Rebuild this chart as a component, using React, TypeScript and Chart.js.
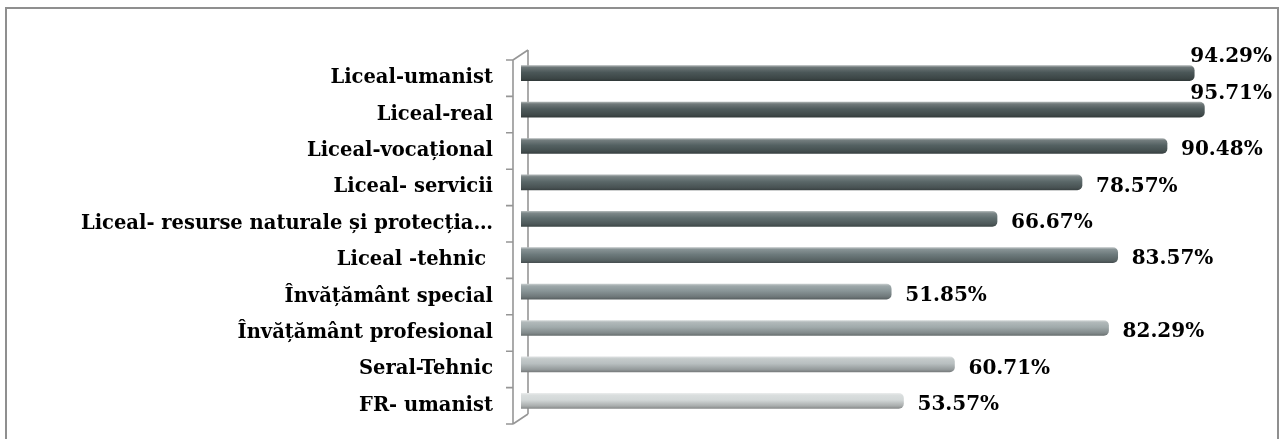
import React, { useEffect, useRef } from "react";
import { Chart, registerables } from "chart.js";

Chart.register(...registerables);

const categories = [
  "Liceal-umanist",
  "Liceal-real",
  "Liceal-vocațional",
  "Liceal- servicii",
  "Liceal- resurse naturale și protecția…",
  "Liceal -tehnic ",
  "Învățământ special",
  "Învățământ profesional",
  "Seral-Tehnic",
  "FR- umanist",
];

const values = [94.29, 95.71, 90.48, 78.57, 66.67, 83.57, 51.85, 82.29, 60.71, 53.57];

const barColors = [
  "#4b5758",
  "#505c5d",
  "#546162",
  "#5a6768",
  "#606e6f",
  "#6d7a7c",
  "#899597",
  "#a0aaab",
  "#b8bfc0",
  "#d2d7d7",
];

const BAR_H = 15;
const LABEL_FONT = "bold 20px 'DejaVu Serif'";

function shade(hex: string, amt: number): string {
  const n = parseInt(hex.slice(1), 16);
  let r = (n >> 16) & 255, g = (n >> 8) & 255, b = n & 255;
  const f = (c: number) => Math.max(0, Math.min(255, Math.round(amt >= 0 ? c + (255 - c) * amt : c * (1 + amt))));
  r = f(r); g = f(g); b = f(b);
  return `rgb(${r},${g},${b})`;
}

const wallPlugin = {
  id: "wall",
  beforeDatasetsDraw(chart: any) {
    const { ctx, chartArea } = chart;
    const d = 5;
    const fx = chartArea.left - 8;
    const bx = chartArea.left + 7;
    const top = chartArea.top;
    const bottom = chartArea.bottom;
    const n = categories.length;
    const step = (bottom - top) / n;
    ctx.save();
    ctx.strokeStyle = "#969696";
    ctx.lineWidth = 1.6;
    ctx.beginPath();
    ctx.moveTo(fx, top + d);
    ctx.lineTo(fx, bottom + d);
    ctx.moveTo(bx, top - d);
    ctx.lineTo(bx, bottom - d);
    ctx.moveTo(fx, top + d);
    ctx.lineTo(bx, top - d);
    ctx.moveTo(fx, bottom + d);
    ctx.lineTo(bx, bottom - d);
    for (let i = 0; i <= n; i++) {
      const y = top + d + i * step;
      ctx.moveTo(fx - 7, y);
      ctx.lineTo(fx, y);
    }
    ctx.stroke();
    ctx.restore();
  },
};

const valueLabelPlugin = {
  id: "valueLabels",
  afterDatasetsDraw(chart: any) {
    const { ctx } = chart;
    const meta = chart.getDatasetMeta(0);
    const limit = chart.width - 10;
    ctx.save();
    ctx.font = LABEL_FONT;
    ctx.fillStyle = "#000";
    ctx.textBaseline = "middle";
    ctx.textAlign = "left";
    meta.data.forEach((el: any, i: number) => {
      const text = values[i].toFixed(2) + "%";
      const w = ctx.measureText(text).width;
      let x = el.x + 14;
      let y = el.y + 4;
      if (x + w > limit) {
        x = limit - w;
        y = el.y - 16;
      }
      ctx.fillText(text, x, y);
    });
    ctx.restore();
  },
};

export default function App() {
  const ref = useRef<HTMLCanvasElement>(null);

  useEffect(() => {
    if (!ref.current) return;
    const chart = new Chart(ref.current, {
      type: "bar",
      data: {
        labels: categories,
        datasets: [
          {
            data: values,
            barThickness: BAR_H,
            borderSkipped: "start",
            borderRadius: 5,
            backgroundColor: (c: any) => {
              const chart = c.chart;
              const base = barColors[c.dataIndex] || barColors[0];
              const ys = chart.scales?.y;
              if (!ys || typeof c.dataIndex !== "number") return base;
              const yc = ys.getPixelForValue(c.dataIndex);
              if (!isFinite(yc)) return base;
              const g = chart.ctx.createLinearGradient(0, yc - BAR_H / 2, 0, yc + BAR_H / 2);
              g.addColorStop(0, shade(base, 0.5));
              g.addColorStop(0.12, shade(base, 0.18));
              g.addColorStop(0.45, base);
              g.addColorStop(0.85, shade(base, -0.2));
              g.addColorStop(1, shade(base, -0.35));
              return g;
            },
          } as any,
        ],
      },
      options: {
        indexAxis: "y",
        responsive: false,
        animation: false,
        maintainAspectRatio: false,
        layout: { padding: { left: 0, right: 47, top: 55, bottom: 20 } },
        plugins: {
          legend: { display: false },
          tooltip: { enabled: false },
        },
        scales: {
          x: {
            min: 0,
            max: 100,
            display: false,
          },
          y: {
            grid: { display: false, drawTicks: false },
            border: { display: false },
            afterFit: (scale: any) => {
              scale.width = 521;
              scale.paddingTop = 0;
              scale.paddingBottom = 0;
            },
            ticks: {
              padding: 28,
              labelOffset: 5,
              color: "#000",
              font: { family: "'DejaVu Serif'", weight: "bold", size: 19.5 },
            },
          },
        },
      },
      plugins: [wallPlugin, valueLabelPlugin],
    });
    return () => chart.destroy();
  }, []);

  return (
    <div style={{ position: "fixed", left: 0, top: 0, width: 1282, height: 439, background: "#fff" }}>
      <canvas ref={ref} width={1282} height={439} style={{ position: "absolute", left: 0, top: 0 }} />
      <div
        style={{
          position: "absolute",
          left: 5,
          top: 7,
          width: 1274,
          height: 440,
          boxSizing: "border-box",
          border: "2px solid #8f8f8f",
          pointerEvents: "none",
        }}
      />
    </div>
  );
}
